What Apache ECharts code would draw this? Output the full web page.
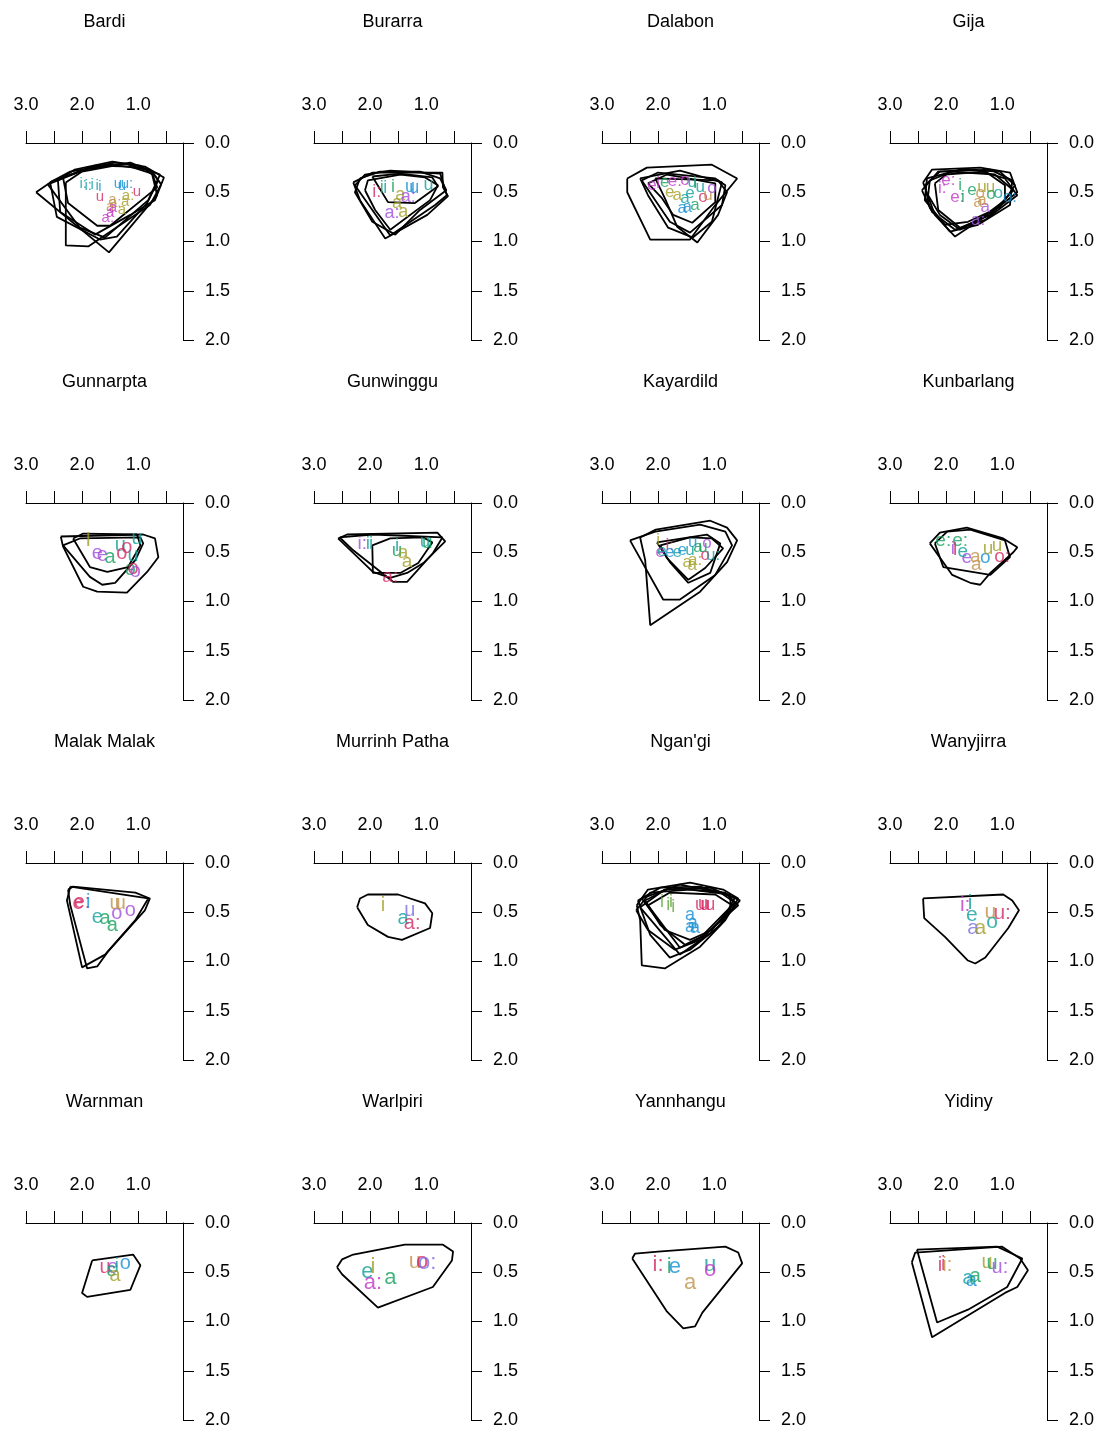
<!DOCTYPE html>
<html><head><meta charset="utf-8">
<script src="https://cdn.jsdelivr.net/npm/echarts@6/dist/echarts.min.js"></script>
<style>html,body{margin:0;padding:0;background:#fff}#c{width:1099px;height:1431px}</style>
</head><body><div id="c"></div><script>
// ---------- DATA (F2 in kHz on x, F1 in kHz on y) ----------
const titles = ['Bardi','Burarra','Dalabon','Gija','Gunnarpta','Gunwinggu','Kayardild','Kunbarlang','Malak Malak','Murrinh Patha',"Ngan'gi",'Wanyjirra','Warnman','Warlpiri','Yannhangu','Yidiny'];
const xTicks = [3.0,2.5,2.0,1.5,1.0,0.5];
const xTickLabels = [3.0,2.0,1.0];
const yTicks = [0.0,0.5,1.0,1.5,2.0];

const hullsBardi = [
 [[2.82,0.50],[2.54,0.39],[1.86,0.25],[1.41,0.20],[0.96,0.23],[0.75,0.32],[0.66,0.53],[1.52,1.11]],
 [[2.29,0.40],[2.00,0.29],[1.23,0.21],[0.75,0.29],[0.59,0.42],[0.79,0.63],[1.89,1.05],[2.29,1.04]],
 [[2.57,0.40],[2.45,0.75],[1.68,0.98],[1.38,0.95],[0.84,0.61],[0.64,0.38],[0.79,0.27],[1.50,0.22],[2.21,0.29]],
 [[2.34,0.35],[2.25,0.61],[1.73,0.84],[1.50,0.84],[0.66,0.45],[0.75,0.31],[1.14,0.24],[1.77,0.23]],
 [[2.43,0.38],[2.13,0.27],[1.46,0.19],[0.88,0.24],[0.54,0.35],[0.70,0.58],[1.14,0.73],[1.77,0.93],[2.39,0.70]],
 [[2.61,0.42],[1.95,0.27],[1.14,0.20],[0.61,0.32],[0.82,0.58],[1.59,0.96],[2.04,0.86]]
];
const vowelsBardi = [['i:',1.98,0.41],['i',1.82,0.42],['i',1.73,0.44],['i:',1.89,0.44],['i',1.68,0.45],['u',1.68,0.55],['u',1.36,0.41],['u:',1.20,0.41],['u',1.29,0.44],['u',1.02,0.50],['a',1.46,0.58],['a',1.50,0.65],['a:',1.41,0.61],['a',1.23,0.60],['a',1.29,0.68],['a:',1.18,0.54],['a',1.50,0.71],['a:',1.54,0.76],['a',1.45,0.66]];
const colorsBardi = ['teal','teal','teal','teal','blue','crimson','blue','blue','blue','crimson','tan','tan','tan','olive','olive','olive','magenta','magenta','magenta'];

const hullsBurarra = [
 [[2.30,0.40],[1.95,0.30],[0.71,0.30],[0.70,0.45],[0.61,0.54],[0.98,0.73],[1.73,0.97],[2.18,0.58]],
 [[2.18,0.36],[1.82,0.29],[1.11,0.29],[0.75,0.36],[0.64,0.48],[1.11,0.68],[1.55,0.93],[1.96,0.80],[2.27,0.50]],
 [[2.09,0.48],[2.04,0.38],[1.46,0.32],[1.02,0.35],[0.79,0.43],[0.93,0.58],[1.64,0.88],[1.91,0.68]],
 [[1.96,0.34],[1.68,0.60],[1.20,0.61],[0.79,0.44],[0.89,0.35],[1.46,0.31]],
 [[2.27,0.43],[2.09,0.32],[1.64,0.28],[0.75,0.31],[0.63,0.53],[0.84,0.63],[1.64,0.94]]
];
const vowelsBurarra = [['i:',1.88,0.50],['i',1.79,0.46],['i',1.59,0.45],['i',1.73,0.46],['u',1.29,0.45],['u',0.96,0.43],['u',1.21,0.46],['a',1.46,0.53],['a:',1.32,0.55],['a',1.52,0.61],['a',1.41,0.70],['a:',1.61,0.71]];
const colorsBurarra = ['crimson','green','green','teal','blue','teal','blue','olive','purple','olive','olive','purple'];

const hullsDalabon = [
 [[2.55,0.36],[2.20,0.25],[1.04,0.22],[0.59,0.36],[0.98,0.63],[1.43,0.98],[2.14,0.98],[2.55,0.50]],
 [[2.29,0.38],[2.00,0.30],[0.98,0.36],[0.80,0.43],[0.86,0.63],[1.43,0.91],[1.79,0.80]],
 [[2.05,0.36],[0.93,0.38],[0.77,0.50],[0.93,0.73],[1.30,1.01],[1.66,0.85],[1.88,0.56]],
 [[2.18,0.41],[1.84,0.32],[0.98,0.41],[0.98,0.60],[1.39,0.81],[1.73,0.73],[1.93,0.56]],
 [[2.32,0.36],[1.61,0.28],[0.86,0.40],[1.04,0.80],[1.38,0.96],[1.82,0.86],[2.18,0.53]]
];
const vowelsDalabon = [['e',2.11,0.43],['i',2.00,0.41],['e',1.88,0.40],['e:',1.70,0.39],['o',1.52,0.38],['u',1.39,0.40],['i',1.34,0.41],['e',1.79,0.50],['a',1.66,0.53],['e',1.43,0.51],['a',1.52,0.56],['o',1.20,0.55],['a',1.48,0.65],['a',1.34,0.63],['u',1.11,0.53],['o',1.04,0.46],['a',1.57,0.66],['u',1.25,0.45]];
const colorsDalabon = ['magenta','magenta','green','magenta','magenta','teal','green','olive','olive','teal','teal','crimson','blue','green','tan','purple','blue','teal'];

const hullsGija = [
 [[2.41,0.40],[2.25,0.27],[1.39,0.25],[0.86,0.30],[0.73,0.50],[1.13,0.68],[1.84,0.95],[2.20,0.73]],
 [[2.38,0.43],[2.11,0.29],[1.21,0.27],[0.82,0.38],[0.86,0.63],[1.43,0.83],[1.93,0.90],[2.29,0.66]],
 [[2.29,0.38],[2.02,0.32],[1.30,0.29],[0.95,0.43],[0.95,0.58],[1.30,0.73],[1.75,0.88],[2.11,0.73],[2.32,0.53]],
 [[2.34,0.36],[1.75,0.27],[1.04,0.29],[0.77,0.43],[1.04,0.65],[1.61,0.80],[2.02,0.83],[2.38,0.58]],
 [[2.20,0.41],[1.93,0.29],[1.13,0.32],[0.80,0.48],[1.21,0.73],[1.75,0.86],[2.14,0.68]],
 [[2.43,0.48],[2.14,0.29],[1.48,0.27],[0.95,0.36],[0.73,0.53],[1.30,0.78],[1.84,0.88],[2.25,0.70]]
];
const vowelsGija = [['i:',2.07,0.46],['e:',1.96,0.38],['e:',1.80,0.55],['i',1.75,0.43],['i',1.70,0.55],['e',1.54,0.48],['u',1.36,0.45],['u',1.21,0.45],['a',1.43,0.60],['a',1.30,0.65],['a:',1.43,0.78],['o',1.07,0.51],['o:',0.86,0.55],['o',1.39,0.51],['a',1.36,0.58],['o',1.20,0.52]];
const colorsGija = ['magenta','magenta','magenta','green','green','green','olive','olive','tan','purple','purple','teal','blue','tan','tan','green'];

const hullsGunnarpta = [
 [[2.38,0.34],[0.91,0.32],[0.70,0.36],[0.64,0.55],[0.84,0.70],[1.20,0.91],[1.73,0.90],[1.98,0.85],[2.34,0.44]],
 [[2.34,0.43],[2.04,0.36],[0.96,0.35],[0.91,0.41],[1.05,0.58],[1.41,0.81],[1.64,0.83],[1.86,0.75]],
 [[2.16,0.36],[1.98,0.31],[1.02,0.32],[0.96,0.43],[1.18,0.65],[1.55,0.70],[1.86,0.65]]
];
const vowelsGunnarpta = [['I',1.89,0.38],['e',1.73,0.51],['e',1.64,0.53],['a',1.50,0.55],['u',1.32,0.43],['o',1.20,0.45],['o',1.29,0.51],['u',1.02,0.36],['u',1.09,0.53],['ə',1.14,0.68],['o',1.09,0.66],['o',1.05,0.70]];
const colorsGunnarpta = ['olive','purple','purple','green','teal','crimson','crimson','teal','teal','green','crimson','purple'];

const hullsGunwinggu = [
 [[2.57,0.36],[2.41,0.32],[0.80,0.30],[0.66,0.39],[1.05,0.61],[1.34,0.71],[1.64,0.76],[1.95,0.70]],
 [[2.54,0.35],[1.95,0.32],[0.71,0.35],[0.88,0.51],[1.34,0.80],[1.59,0.80],[2.30,0.48]],
 [[1.96,0.43],[1.64,0.36],[1.05,0.35],[0.89,0.40],[1.14,0.61],[1.46,0.71],[1.95,0.71]]
];
const vowelsGunwinggu = [['i:',2.14,0.41],['i',2.04,0.41],['i',1.98,0.41],['i',1.52,0.43],['u',1.52,0.49],['a',1.41,0.51],['a',1.34,0.60],['a:',1.64,0.75],['u',0.98,0.40],['u',1.02,0.39]];
const colorsGunwinggu = ['purple','teal','teal','teal','green','olive','olive','crimson','green','teal'];

const hullsKayardild = [
 [[2.32,0.35],[2.04,0.27],[1.07,0.18],[0.77,0.25],[0.59,0.38],[0.77,0.60],[1.25,0.90],[2.14,1.24],[2.23,0.58]],
 [[2.50,0.38],[2.05,0.29],[1.25,0.22],[0.80,0.29],[0.68,0.43],[0.98,0.73],[1.61,0.98],[1.91,0.98]],
 [[2.02,0.40],[1.13,0.32],[0.89,0.41],[1.07,0.71],[1.46,0.81],[1.79,0.60]],
 [[1.96,0.43],[1.43,0.35],[1.04,0.36],[0.84,0.46],[1.16,0.66],[1.46,0.78],[1.84,0.56]]
];
const vowelsKayardild = [['i',2.00,0.38],['e',1.96,0.50],['e',1.93,0.49],['i:',1.79,0.43],['e',1.79,0.50],['e',1.66,0.50],['e',1.57,0.48],['u',1.38,0.40],['u',1.43,0.48],['a',1.29,0.45],['a',1.48,0.60],['a',1.39,0.63],['a:',1.34,0.58],['o',1.13,0.41],['o',1.16,0.53],['u:',1.02,0.53],['u',1.20,0.45]];
const colorsKayardild = ['olive','magenta','teal','crimson','blue','teal','blue','blue','teal','green','olive','olive','olive','purple','crimson','teal','green'];

const hullsKunbarlang = [
 [[2.29,0.41],[2.11,0.30],[1.63,0.25],[0.98,0.36],[0.73,0.45],[0.80,0.50],[1.21,0.71],[1.39,0.83],[1.57,0.81],[1.89,0.73]],
 [[2.20,0.41],[1.98,0.29],[1.57,0.27],[0.95,0.38],[0.86,0.55],[1.21,0.73],[2.05,0.65]]
];
const vowelsKunbarlang = [['e:',2.05,0.38],['e:',1.75,0.38],['i',1.88,0.46],['I',1.84,0.47],['e',1.63,0.56],['a',1.48,0.55],['a',1.46,0.63],['o',1.30,0.56],['u',1.25,0.46],['u',1.09,0.43],['o:',1.00,0.55],['e',1.70,0.50]];
const colorsKunbarlang = ['green','green','purple','crimson','purple','tan','tan','blue','olive','olive','crimson','teal'];

const hullsMalakMalak = [
 [[2.25,0.27],[2.16,0.24],[1.05,0.30],[0.79,0.36],[0.88,0.48],[1.54,0.90],[1.73,1.05],[1.91,1.07],[2.21,0.43]],
 [[2.21,0.24],[0.82,0.36],[1.05,0.58],[1.59,0.93],[2.00,1.06],[2.27,0.38]]
];
const vowelsMalakMalak = [['e',2.07,0.41],['e:',2.00,0.40],['i',1.89,0.40],['e',1.73,0.55],['a',1.59,0.56],['a',1.46,0.63],['o',1.38,0.51],['u',1.41,0.41],['u',1.32,0.41],['o',1.14,0.48]];
const colorsMalakMalak = ['crimson','crimson','blue','teal','green','green','purple','tan','tan','purple'];

const hullsMurrinhPatha = [
 [[2.23,0.45],[2.18,0.36],[2.04,0.32],[1.50,0.32],[1.02,0.41],[0.89,0.51],[0.93,0.66],[1.43,0.78],[1.68,0.75],[2.04,0.63]]
];
const vowelsMurrinhPatha = [['i',1.77,0.43],['a',1.41,0.56],['u',1.29,0.48],['a:',1.25,0.61]];
const colorsMurrinhPatha = ['olive','teal','violet','crimson'];

const hullsNgangi = [
 [[2.38,0.43],[2.18,0.27],[1.43,0.20],[0.84,0.27],[0.57,0.36],[0.80,0.58],[1.25,0.85],[1.88,1.07],[2.29,1.04],[2.32,0.58]],
 [[2.36,0.38],[1.96,0.25],[1.25,0.24],[0.63,0.35],[0.89,0.63],[1.43,0.88],[1.79,0.96],[2.14,0.73]],
 [[2.32,0.45],[1.88,0.27],[1.07,0.25],[0.54,0.38],[0.98,0.68],[1.61,0.93],[2.05,0.63]],
 [[2.23,0.38],[1.79,0.25],[0.80,0.30],[0.57,0.43],[1.16,0.73],[1.52,0.83],[1.96,0.63]],
 [[2.39,0.48],[2.14,0.30],[1.43,0.27],[0.71,0.32],[0.71,0.48],[1.25,0.78],[1.70,0.88],[2.18,0.68]],
 [[2.29,0.36],[1.61,0.22],[0.89,0.30],[0.63,0.40],[1.04,0.68],[1.43,0.78],[1.88,0.68]],
 [[2.18,0.43],[1.79,0.30],[0.98,0.32],[0.68,0.43],[1.25,0.76],[1.61,0.86]]
];
const vowelsNgangi = [['i',1.93,0.40],['i',1.82,0.43],['i',1.73,0.45],['i',1.77,0.40],['u',1.25,0.43],['u',1.16,0.43],['u',1.07,0.43],['u',1.20,0.42],['a',1.43,0.53],['a',1.38,0.61],['a',1.34,0.66],['a',1.43,0.65]];
const colorsNgangi = ['lgreen','lgreen','lgreen','lgreen','crimson','crimson','crimson','crimson','blue','blue','blue','blue'];

const hullsWanyjirra = [
 [[2.41,0.36],[0.98,0.32],[0.82,0.38],[0.70,0.48],[0.89,0.66],[1.30,0.96],[1.48,1.02],[1.61,0.99],[2.02,0.75],[2.39,0.56]]
];
const vowelsWanyjirra = [['i:',1.66,0.43],['i',1.57,0.41],['e',1.54,0.53],['a',1.52,0.66],['a',1.39,0.66],['u',1.21,0.50],['o',1.18,0.60],['u:',1.00,0.51]];
const colorsWanyjirra = ['magenta','teal','teal','violet','olive','tan','teal','crimson'];

const hullsWarnman = [
 [[1.82,0.38],[1.09,0.32],[0.96,0.43],[1.14,0.68],[1.91,0.75],[2.00,0.71]]
];
const vowelsWarnman = [['u',1.59,0.45],['e',1.45,0.45],['ɛ',1.48,0.48],['i',1.38,0.44],['o',1.23,0.41],['a',1.41,0.53]];
const colorsWarnman = ['crimson','purple','green','teal','blue','olive'];

const hullsWarlpiri = [
 [[2.59,0.45],[2.50,0.37],[2.30,0.32],[1.38,0.22],[0.70,0.22],[0.52,0.29],[0.54,0.38],[0.88,0.65],[1.86,0.86],[2.50,0.52]]
];
const vowelsWarlpiri = [['e',2.05,0.50],['i',1.95,0.45],['a:',1.95,0.61],['a',1.64,0.56],['u',1.20,0.40],['o',1.07,0.40],['o:',0.98,0.41]];
const colorsWarlpiri = ['teal','olive','magenta','green','tan','crimson','violet'];

const hullsYannhangu = [
 [[2.46,0.36],[2.41,0.31],[2.00,0.29],[0.80,0.24],[0.57,0.30],[0.50,0.41],[1.21,0.91],[1.34,1.05],[1.55,1.07],[1.84,0.90]]
];
const vowelsYannhangu = [['i:',2.00,0.43],['i',1.80,0.45],['e',1.70,0.45],['a',1.43,0.61],['u',1.07,0.43],['o',1.07,0.48]];
const colorsYannhangu = ['crimson','green','blue','tan','teal','magenta'];

const hullsYidiny = [
 [[2.61,0.40],[2.55,0.30],[1.00,0.24],[0.68,0.36],[0.54,0.48],[0.73,0.65],[0.95,0.71],[2.25,1.16]],
 [[2.52,0.27],[1.09,0.24],[0.64,0.36],[0.91,0.65],[1.61,0.88],[2.16,1.01]]
];
const vowelsYidiny = [['i',2.11,0.43],['i',2.05,0.42],['i:',1.98,0.43],['a',1.61,0.56],['a',1.55,0.58],['a',1.48,0.54],['u',1.27,0.40],['u',1.18,0.41],['u:',1.04,0.45]];
const colorsYidiny = ['crimson','crimson','tan','teal','blue','green','olive','green','purple'];

// ---------- STYLE ----------
const palette = {crimson:'#D42A66', magenta:'#C236C8', purple:'#A04CDD', violet:'#7A6EE6', blue:'#1790D6', teal:'#10A09C', green:'#18A15E', lgreen:'#5EA83A', olive:'#A29E24', tan:'#C0914A'};
const labelSizes = [15,18,17,17,20,19,17,19,20,20,18,21,20,22,22,20];
const FONT = '"Liberation Sans", Arial, sans-serif';

const panels = [
 [hullsBardi, vowelsBardi, colorsBardi],
 [hullsBurarra, vowelsBurarra, colorsBurarra],
 [hullsDalabon, vowelsDalabon, colorsDalabon],
 [hullsGija, vowelsGija, colorsGija],
 [hullsGunnarpta, vowelsGunnarpta, colorsGunnarpta],
 [hullsGunwinggu, vowelsGunwinggu, colorsGunwinggu],
 [hullsKayardild, vowelsKayardild, colorsKayardild],
 [hullsKunbarlang, vowelsKunbarlang, colorsKunbarlang],
 [hullsMalakMalak, vowelsMalakMalak, colorsMalakMalak],
 [hullsMurrinhPatha, vowelsMurrinhPatha, colorsMurrinhPatha],
 [hullsNgangi, vowelsNgangi, colorsNgangi],
 [hullsWanyjirra, vowelsWanyjirra, colorsWanyjirra],
 [hullsWarnman, vowelsWarnman, colorsWarnman],
 [hullsWarlpiri, vowelsWarlpiri, colorsWarlpiri],
 [hullsYannhangu, vowelsYannhangu, colorsYannhangu],
 [hullsYidiny, vowelsYidiny, colorsYidiny]
];

const grids = [], xAxes = [], yAxes = [], series = [], graphics = [];
panels.forEach((p, i) => {
  const r = Math.floor(i / 4), c = i % 4;
  const left = 26 + 288 * c, top = 143 + 360 * r;
  grids.push({left: left, top: top, width: 157, height: 197});
  xAxes.push({
    gridIndex: i, type: 'value', position: 'top', inverse: true, min: 0.2, max: 3.0,
    axisLine: {show: true, onZero: false, lineStyle: {color: '#000', width: 1}},
    axisTick: {show: true, customValues: xTicks, length: 12, lineStyle: {color: '#000', width: 1}},
    axisLabel: {show: true, customValues: xTickLabels, formatter: v => Number(v).toFixed(1), margin: 29, fontSize: 18, color: '#000', fontFamily: FONT},
    splitLine: {show: false}
  });
  yAxes.push({
    gridIndex: i, type: 'value', position: 'right', inverse: true, min: 0, max: 2, interval: 0.5,
    axisLine: {show: true, onZero: false, lineStyle: {color: '#000', width: 1}},
    axisTick: {show: true, length: 11, lineStyle: {color: '#000', width: 1}},
    axisLabel: {show: true, formatter: v => Number(v).toFixed(1), margin: 22, fontSize: 18, color: '#000', fontFamily: FONT, padding: [4, 0, 0, 0]},
    splitLine: {show: false}
  });
  p[0].forEach(h => {
    series.push({
      type: 'line', xAxisIndex: i, yAxisIndex: i, data: h.concat([h[0]]),
      symbol: 'none', showSymbol: false, silent: true, animation: false,
      lineStyle: {color: '#000', width: 1.8}, z: 2
    });
  });
  series.push({
    type: 'scatter', xAxisIndex: i, yAxisIndex: i, symbolSize: 1, silent: true, animation: false,
    itemStyle: {color: 'rgba(0,0,0,0)'},
    data: p[1].map((v, k) => ({value: [v[1], v[2]], name: v[0], label: {color: palette[p[2][k]]}})),
    label: {show: true, position: 'inside', formatter: q => q.name, fontSize: labelSizes[i], fontFamily: FONT},
    z: 3
  });
  graphics.push({
    type: 'text', x: left + 78.5, y: 22 + 360 * r,
    style: {text: titles[i], fontSize: 18, fontFamily: FONT, fill: '#000', align: 'center', verticalAlign: 'middle'}
  });
});

const chart = echarts.init(document.getElementById('c'), null, {renderer: 'canvas'});
chart.setOption({
  animation: false, backgroundColor: '#fff',
  grid: grids, xAxis: xAxes, yAxis: yAxes, series: series, graphic: graphics
});
</script></body></html>
